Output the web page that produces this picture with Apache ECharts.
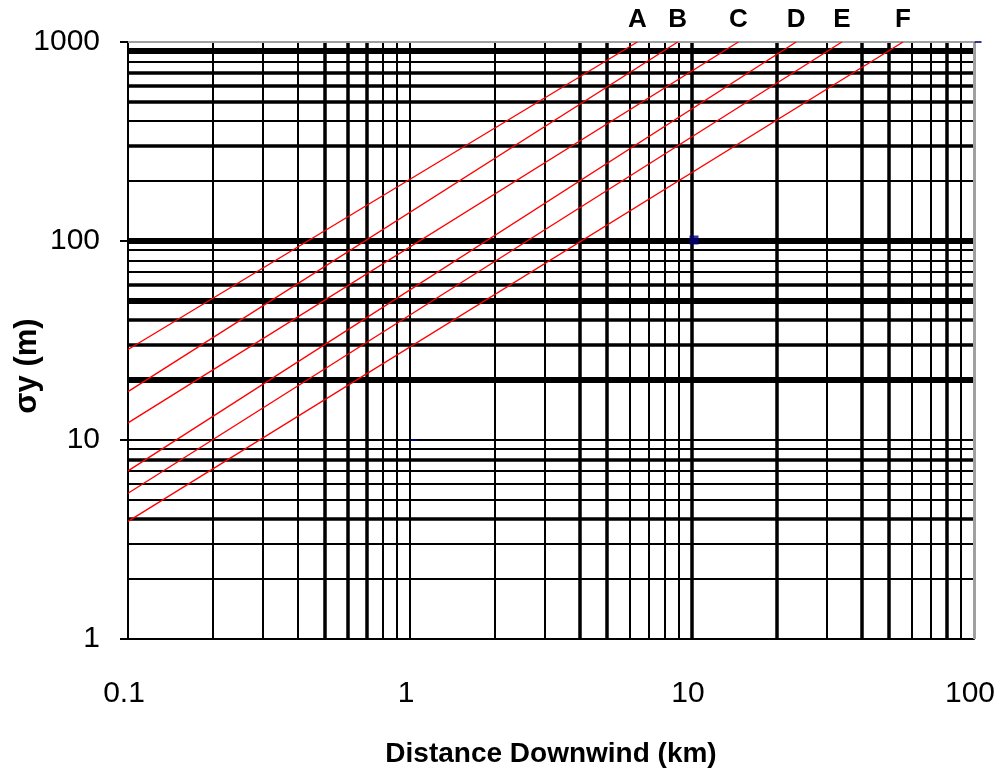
<!DOCTYPE html>
<html>
<head>
<meta charset="utf-8">
<script src="https://cdn.jsdelivr.net/npm/echarts@6/dist/echarts.min.js"></script>
<style>html,body{margin:0;padding:0;background:#fff}#c{width:1002px;height:774px}</style>
</head>
<body>
<div id="c"></div>
<script>
// ---- data ----
const stabilityClasses = ['A', 'B', 'C', 'D', 'E', 'F'];
// distance (km) at start / end of each class line
const distStart = [0.1, 0.1, 0.1, 0.1, 0.1, 0.1];
const distEnd = [6.4, 8.9, 14.6, 23.4, 34.0, 56.0];
// sigma-y (m) at start / end of each class line
const sigmaStart = [28.5, 17.5, 12.2, 7.0, 5.4, 3.9];
const sigmaEnd = [1000, 1000, 1000, 1000, 1000, 1000];

const xTickLabels = ['0.1', '1', '10', '100'];
const yTickLabels = ['1', '10', '100', '1000'];

// log-paper grid values
const xGridThin = [0.2, 0.3, 0.4, 0.8, 0.9, 1, 2, 3, 6, 7, 8, 9, 30, 60, 70, 90];
const xGridThick = [0.5, 0.6, 0.7, 4, 5, 10, 20, 40, 50, 80];
const yGridThin = [800, 400, 200, 90, 80, 70, 10, 9, 7, 6, 5, 3, 2];
const yGridThick = [700, 600, 500, 300, 60, 40, 30, 8, 4];
const yGridHeavy = [900, 100, 50, 20];

// stray marker points
const markerX = [1, 10, 100];
const markerY = [10, 100, 1000];

// ---- chart ----
const chart = echarts.init(document.getElementById('c'));
const FONT = 'Liberation Sans';

function lineItems(vals, key, width, color) {
  return vals.map(v => ({ [key]: v, lineStyle: { width: width, color: color, type: 'solid' } }));
}

const gridLines = []
  .concat(lineItems(xGridThin, 'xAxis', 2, '#000'))
  .concat(lineItems(xGridThick, 'xAxis', 3.5, '#000'))
  .concat(lineItems(yGridThin, 'yAxis', 2, '#000'))
  .concat(lineItems(yGridThick, 'yAxis', 3.5, '#000'))
  .concat(lineItems(yGridHeavy, 'yAxis', 6, '#000'))
  .concat(lineItems([1000], 'yAxis', 2, '#a0a0a0'))
  .concat(lineItems([100], 'xAxis', 3, '#a0a0a0'));

const classSeries = stabilityClasses.map((name, i) => ({
  name: name,
  type: 'line',
  z: 5,
  silent: true,
  showSymbol: false,
  symbol: 'none',
  lineStyle: { color: '#ff0000', width: 1.4 },
  data: [
    [distStart[i], sigmaStart[i]],
    [distEnd[i], sigmaEnd[i]]
  ],
  markPoint: {
    silent: true,
    symbol: 'circle',
    symbolSize: 0,
    animation: false,
    label: {
      show: true, position: 'top', distance: 9, formatter: name,
      color: '#000', fontFamily: FONT, fontWeight: 'bold', fontSize: 26
    },
    data: [{ coord: [distEnd[i], sigmaEnd[i]] }]
  }
}));

const option = {
  animation: false,
  backgroundColor: '#fff',
  grid: { left: 128, right: 28, top: 42, bottom: 135 },
  xAxis: {
    type: 'log', logBase: 10, min: 0.1, max: 100,
    axisLine: { show: true, lineStyle: { color: '#000', width: 2 } },
    axisTick: { show: false },
    splitLine: { show: false },
    minorTick: { show: false },
    axisLabel: {
      margin: 40, color: '#000', fontFamily: FONT, fontSize: 30,
      padding: [0, 8, 0, 0],
      formatter: function (v) {
        const idx = Math.round(Math.log10(v)) + 1;
        return xTickLabels[idx] !== undefined ? xTickLabels[idx] : '';
      }
    },
    name: 'Distance Downwind (km)',
    nameLocation: 'middle',
    nameGap: 101,
    nameTextStyle: { color: '#000', fontFamily: FONT, fontWeight: 'bold', fontSize: 28 }
  },
  yAxis: {
    type: 'log', logBase: 10, min: 1, max: 1000,
    axisLine: { show: true, lineStyle: { color: '#000', width: 2 } },
    axisTick: { show: true, length: 8, lineStyle: { color: '#000', width: 2 } },
    splitLine: { show: false },
    minorTick: { show: false },
    axisLabel: {
      margin: 28, color: '#000', fontFamily: FONT, fontSize: 30,
      formatter: function (v) {
        const idx = Math.round(Math.log10(v));
        return yTickLabels[idx] !== undefined ? yTickLabels[idx] : '';
      }
    }
  },
  graphic: [{
    type: 'text',
    x: 27, y: 366,
    rotation: Math.PI / 2,
    style: {
      text: 'σy (m)', fill: '#000',
      font: 'bold 31px "Liberation Sans"',
      align: 'center', verticalAlign: 'middle'
    }
  }],
  series: [
    {
      type: 'line', z: 1, silent: true, data: [],
      markLine: {
        silent: true, symbol: ['none', 'none'], label: { show: false },
        animation: false, data: gridLines
      }
    }
  ].concat(classSeries).concat([
    {
      type: 'scatter', z: 6, silent: true,
      symbol: 'rect',
      symbolSize: function (val, p) { return p.dataIndex === 1 ? [9, 9] : [7, 2]; },
      symbolOffset: function (val, p) { return p.dataIndex === 1 ? [2, -1] : [4, 0]; },
      itemStyle: { color: '#000080' },
      data: markerX.map((x, i) => [x, markerY[i]])
    }
  ])
};
chart.setOption(option);
</script>
</body>
</html>
